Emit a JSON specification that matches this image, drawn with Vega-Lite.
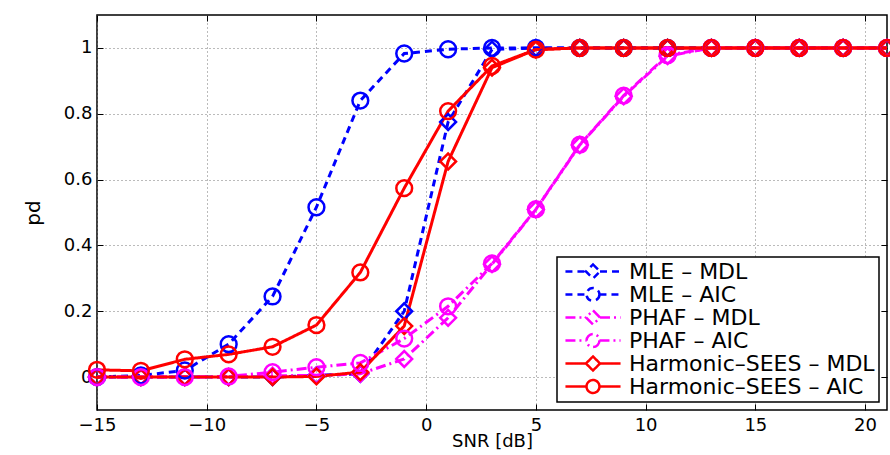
{
  "$schema": "https://vega.github.io/schema/vega-lite/v6.json",
  "width": 790,
  "height": 395,
  "autosize": {"type": "none"},
  "padding": {"left": 97, "top": 15, "right": 3, "bottom": 45},
  "background": "white",
  "config": {
    "font": "DejaVu Sans",
    "view": {"stroke": "black", "strokeWidth": 1.5},
    "axis": {
      "domain": false,
      "grid": true,
      "gridColor": "#777",
      "gridDash": [1, 3],
      "gridWidth": 1,
      "tickColor": "black",
      "tickSize": -6,
      "tickWidth": 1,
      "labelFlush": false,
      "labelFont": "DejaVu Sans",
      "labelFontSize": 18,
      "labelColor": "black",
      "titleFont": "DejaVu Sans",
      "titleFontSize": 18,
      "titleFontWeight": "normal",
      "titleColor": "black"
    },
    "legend": {
      "orient": "bottom-right",
      "offset": 8,
      "fillColor": "white",
      "strokeColor": "black",
      "strokeWidth": 1.5,
      "padding": 4,
      "labelFont": "DejaVu Sans",
      "labelFontSize": 22,
      "labelColor": "black",
      "labelLimit": 400,
      "labelOffset": 25,
      "symbolOffset": 21,
      "rowPadding": 0,
      "clipHeight": 21,
      "symbolSize": 361,
      "symbolOpacity": 1,
      "symbolStrokeWidth": 2.5
    }
  },
  "datasets": {
    "pd": [
      {"s": "MLE – MDL", "x": -15, "y": 0}, {"s": "MLE – MDL", "x": -13, "y": 0}, {"s": "MLE – MDL", "x": -11, "y": 0}, {"s": "MLE – MDL", "x": -9, "y": 0}, {"s": "MLE – MDL", "x": -7, "y": 0}, {"s": "MLE – MDL", "x": -5, "y": 0.005}, {"s": "MLE – MDL", "x": -3, "y": 0.01}, {"s": "MLE – MDL", "x": -1, "y": 0.2}, {"s": "MLE – MDL", "x": 1, "y": 0.775}, {"s": "MLE – MDL", "x": 3, "y": 0.995}, {"s": "MLE – MDL", "x": 5, "y": 1}, {"s": "MLE – MDL", "x": 7, "y": 1}, {"s": "MLE – MDL", "x": 9, "y": 1}, {"s": "MLE – MDL", "x": 11, "y": 1}, {"s": "MLE – MDL", "x": 13, "y": 1}, {"s": "MLE – MDL", "x": 15, "y": 1}, {"s": "MLE – MDL", "x": 17, "y": 1}, {"s": "MLE – MDL", "x": 19, "y": 1}, {"s": "MLE – MDL", "x": 21, "y": 1},
      {"s": "MLE – AIC", "x": -15, "y": 0}, {"s": "MLE – AIC", "x": -13, "y": 0.005}, {"s": "MLE – AIC", "x": -11, "y": 0.02}, {"s": "MLE – AIC", "x": -9, "y": 0.1}, {"s": "MLE – AIC", "x": -7, "y": 0.245}, {"s": "MLE – AIC", "x": -5, "y": 0.516}, {"s": "MLE – AIC", "x": -3, "y": 0.84}, {"s": "MLE – AIC", "x": -1, "y": 0.983}, {"s": "MLE – AIC", "x": 1, "y": 0.996}, {"s": "MLE – AIC", "x": 3, "y": 1}, {"s": "MLE – AIC", "x": 5, "y": 1}, {"s": "MLE – AIC", "x": 7, "y": 1}, {"s": "MLE – AIC", "x": 9, "y": 1}, {"s": "MLE – AIC", "x": 11, "y": 1}, {"s": "MLE – AIC", "x": 13, "y": 1}, {"s": "MLE – AIC", "x": 15, "y": 1}, {"s": "MLE – AIC", "x": 17, "y": 1}, {"s": "MLE – AIC", "x": 19, "y": 1}, {"s": "MLE – AIC", "x": 21, "y": 1},
      {"s": "PHAF – MDL", "x": -15, "y": 0}, {"s": "PHAF – MDL", "x": -13, "y": 0}, {"s": "PHAF – MDL", "x": -11, "y": 0}, {"s": "PHAF – MDL", "x": -9, "y": 0}, {"s": "PHAF – MDL", "x": -7, "y": 0.004}, {"s": "PHAF – MDL", "x": -5, "y": 0.005}, {"s": "PHAF – MDL", "x": -3, "y": 0.01}, {"s": "PHAF – MDL", "x": -1, "y": 0.055}, {"s": "PHAF – MDL", "x": 1, "y": 0.18}, {"s": "PHAF – MDL", "x": 3, "y": 0.343}, {"s": "PHAF – MDL", "x": 5, "y": 0.509}, {"s": "PHAF – MDL", "x": 7, "y": 0.705}, {"s": "PHAF – MDL", "x": 9, "y": 0.853}, {"s": "PHAF – MDL", "x": 11, "y": 0.975}, {"s": "PHAF – MDL", "x": 13, "y": 1}, {"s": "PHAF – MDL", "x": 15, "y": 1}, {"s": "PHAF – MDL", "x": 17, "y": 1}, {"s": "PHAF – MDL", "x": 19, "y": 1}, {"s": "PHAF – MDL", "x": 21, "y": 1},
      {"s": "PHAF – AIC", "x": -15, "y": 0}, {"s": "PHAF – AIC", "x": -13, "y": 0}, {"s": "PHAF – AIC", "x": -11, "y": 0}, {"s": "PHAF – AIC", "x": -9, "y": 0.002}, {"s": "PHAF – AIC", "x": -7, "y": 0.015}, {"s": "PHAF – AIC", "x": -5, "y": 0.03}, {"s": "PHAF – AIC", "x": -3, "y": 0.043}, {"s": "PHAF – AIC", "x": -1, "y": 0.117}, {"s": "PHAF – AIC", "x": 1, "y": 0.215}, {"s": "PHAF – AIC", "x": 3, "y": 0.345}, {"s": "PHAF – AIC", "x": 5, "y": 0.51}, {"s": "PHAF – AIC", "x": 7, "y": 0.706}, {"s": "PHAF – AIC", "x": 9, "y": 0.855}, {"s": "PHAF – AIC", "x": 11, "y": 0.978}, {"s": "PHAF – AIC", "x": 13, "y": 1}, {"s": "PHAF – AIC", "x": 15, "y": 1}, {"s": "PHAF – AIC", "x": 17, "y": 1}, {"s": "PHAF – AIC", "x": 19, "y": 1}, {"s": "PHAF – AIC", "x": 21, "y": 1},
      {"s": "Harmonic–SEES – MDL", "x": -15, "y": 0}, {"s": "Harmonic–SEES – MDL", "x": -13, "y": 0}, {"s": "Harmonic–SEES – MDL", "x": -11, "y": 0}, {"s": "Harmonic–SEES – MDL", "x": -9, "y": 0}, {"s": "Harmonic–SEES – MDL", "x": -7, "y": 0}, {"s": "Harmonic–SEES – MDL", "x": -5, "y": 0.002}, {"s": "Harmonic–SEES – MDL", "x": -3, "y": 0.015}, {"s": "Harmonic–SEES – MDL", "x": -1, "y": 0.155}, {"s": "Harmonic–SEES – MDL", "x": 1, "y": 0.655}, {"s": "Harmonic–SEES – MDL", "x": 3, "y": 0.94}, {"s": "Harmonic–SEES – MDL", "x": 5, "y": 0.995}, {"s": "Harmonic–SEES – MDL", "x": 7, "y": 1}, {"s": "Harmonic–SEES – MDL", "x": 9, "y": 1}, {"s": "Harmonic–SEES – MDL", "x": 11, "y": 1}, {"s": "Harmonic–SEES – MDL", "x": 13, "y": 1}, {"s": "Harmonic–SEES – MDL", "x": 15, "y": 1}, {"s": "Harmonic–SEES – MDL", "x": 17, "y": 1}, {"s": "Harmonic–SEES – MDL", "x": 19, "y": 1}, {"s": "Harmonic–SEES – MDL", "x": 21, "y": 1},
      {"s": "Harmonic–SEES – AIC", "x": -15, "y": 0.022}, {"s": "Harmonic–SEES – AIC", "x": -13, "y": 0.019}, {"s": "Harmonic–SEES – AIC", "x": -11, "y": 0.054}, {"s": "Harmonic–SEES – AIC", "x": -9, "y": 0.069}, {"s": "Harmonic–SEES – AIC", "x": -7, "y": 0.092}, {"s": "Harmonic–SEES – AIC", "x": -5, "y": 0.158}, {"s": "Harmonic–SEES – AIC", "x": -3, "y": 0.318}, {"s": "Harmonic–SEES – AIC", "x": -1, "y": 0.574}, {"s": "Harmonic–SEES – AIC", "x": 1, "y": 0.808}, {"s": "Harmonic–SEES – AIC", "x": 3, "y": 0.945}, {"s": "Harmonic–SEES – AIC", "x": 5, "y": 0.995}, {"s": "Harmonic–SEES – AIC", "x": 7, "y": 1}, {"s": "Harmonic–SEES – AIC", "x": 9, "y": 1}, {"s": "Harmonic–SEES – AIC", "x": 11, "y": 1}, {"s": "Harmonic–SEES – AIC", "x": 13, "y": 1}, {"s": "Harmonic–SEES – AIC", "x": 15, "y": 1}, {"s": "Harmonic–SEES – AIC", "x": 17, "y": 1}, {"s": "Harmonic–SEES – AIC", "x": 19, "y": 1}, {"s": "Harmonic–SEES – AIC", "x": 21, "y": 1}
    ]
  },
  "data": {"name": "pd"},
  "layer": [
    {
      "mark": {"type": "line", "strokeWidth": 3},
      "encoding": {
        "x": {"field": "x", "type": "quantitative", "scale": {"domain": [-15, 21], "nice": false, "zero": false}, "axis": {"orient": "bottom", "values": [-15, -10, -5, 0, 5, 10, 15, 20], "title": "SNR [dB]", "labelPadding": 12, "titlePadding": -2}},
        "y": {"field": "y", "type": "quantitative", "scale": {"domain": [-0.1, 1.1], "nice": false, "zero": false}, "axis": {"orient": "left", "values": [0, 0.2, 0.4, 0.6, 0.8, 1], "format": "~g", "title": "pd", "titleFontSize": 20, "labelPadding": 11, "titlePadding": 20}},
        "color": {"field": "s", "type": "nominal", "title": null, "scale": {"domain": ["MLE – MDL", "MLE – AIC", "PHAF – MDL", "PHAF – AIC", "Harmonic–SEES – MDL", "Harmonic–SEES – AIC"], "range": ["#0000ff", "#0000ff", "#ff00ff", "#ff00ff", "#ff0000", "#ff0000"]}},
        "strokeDash": {"field": "s", "type": "nominal", "title": null, "scale": {"domain": ["MLE – MDL", "MLE – AIC", "PHAF – MDL", "PHAF – AIC", "Harmonic–SEES – MDL", "Harmonic–SEES – AIC"], "range": [[7, 5], [7, 5], [10, 4, 2, 4], [10, 4, 2, 4], [1, 0], [1, 0]]}}
      }
    },
    {
      "transform": [{"filter": "indexof(datum.s, 'MDL') >= 0"}],
      "mark": {"type": "point", "shape": "diamond", "filled": false, "strokeWidth": 2.5, "size": 250, "opacity": 1},
      "encoding": {
        "x": {"field": "x", "type": "quantitative", "scale": {"domain": [-15, 21], "nice": false, "zero": false}, "axis": {"orient": "top", "values": [-15, -10, -5, 0, 5, 10, 15, 20], "labels": false, "grid": false, "title": null}},
        "y": {"field": "y", "type": "quantitative", "scale": {"domain": [-0.1, 1.1], "nice": false, "zero": false}, "axis": {"orient": "right", "values": [0, 0.2, 0.4, 0.6, 0.8, 1], "labels": false, "grid": false, "title": null}},
        "color": {"field": "s", "type": "nominal", "title": null}
      }
    },
    {
      "transform": [{"filter": "indexof(datum.s, 'AIC') >= 0"}],
      "mark": {"type": "point", "shape": "circle", "filled": false, "strokeWidth": 2.5, "size": 250, "opacity": 1},
      "encoding": {
        "x": {"field": "x", "type": "quantitative", "scale": {"domain": [-15, 21], "nice": false, "zero": false}, "axis": null},
        "y": {"field": "y", "type": "quantitative", "scale": {"domain": [-0.1, 1.1], "nice": false, "zero": false}, "axis": null},
        "color": {"field": "s", "type": "nominal", "title": null}
      }
    },
    {
      "transform": [{"filter": "datum.x > 1000"}],
      "mark": {"type": "point", "filled": false, "strokeWidth": 2.5},
      "encoding": {
        "x": {"field": "x", "type": "quantitative", "scale": {"domain": [-15, 21], "nice": false, "zero": false}, "axis": null},
        "y": {"field": "y", "type": "quantitative", "scale": {"domain": [-0.1, 1.1], "nice": false, "zero": false}, "axis": null},
        "color": {"field": "s", "type": "nominal", "title": null},
        "strokeDash": {"field": "s", "type": "nominal", "title": null},
        "shape": {"field": "s", "type": "nominal", "title": null, "scale": {"domain": ["MLE – MDL", "MLE – AIC", "PHAF – MDL", "PHAF – AIC", "Harmonic–SEES – MDL", "Harmonic–SEES – AIC"], "range": ["M-2.9,0H-0.74M0.74,0H2.9M0,-0.74L0.74,0L0,0.74L-0.74,0Z", "M-2.9,0H-0.68M0.68,0H2.9M0.68,0A0.68,0.68 0 1 1 -0.68,0A0.68,0.68 0 1 1 0.68,0Z", "M-2.9,0H-0.74M0.74,0H2.9M0,-0.74L0.74,0L0,0.74L-0.74,0Z", "M-2.9,0H-0.68M0.68,0H2.9M0.68,0A0.68,0.68 0 1 1 -0.68,0A0.68,0.68 0 1 1 0.68,0Z", "M-2.9,0H-0.74M0.74,0H2.9M0,-0.74L0.74,0L0,0.74L-0.74,0Z", "M-2.9,0H-0.68M0.68,0H2.9M0.68,0A0.68,0.68 0 1 1 -0.68,0A0.68,0.68 0 1 1 0.68,0Z"]}}
      }
    }
  ],
  "resolve": {"axis": {"x": "independent", "y": "independent"}}
}
